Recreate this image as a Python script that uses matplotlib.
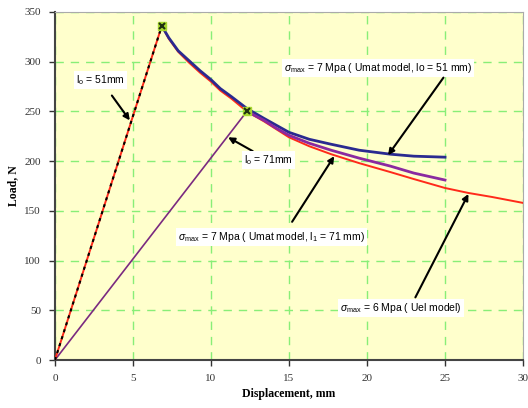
import matplotlib.pyplot as plt

plt.rcParams['mathtext.fontset'] = 'custom'
plt.rcParams['mathtext.rm'] = 'Liberation Sans'
plt.rcParams['mathtext.it'] = 'Liberation Sans:italic'

# Uel model, sigma_max = 6 MPa (red)
x_uel = [0, 6.85, 7.3, 7.9, 8.6, 9.3, 10, 10.6, 11.3, 12.3, 13.4, 14.2, 15, 16.3, 17.7,
         19.5, 21.5, 23, 25, 26.5, 28, 30]
load_uel = [0, 336, 323, 310, 299, 289, 280, 271, 263, 250, 240, 232, 224, 215, 207,
            198, 189, 182, 173, 168, 164, 158]

# Umat model, lo = 51 mm (black dotted rise, blue softening)
x_rise51 = [0, 6.85]
load_rise51 = [0, 336]
x_umat51 = [6.85, 7.3, 7.9, 8.6, 9.3, 10, 10.6, 11.3, 12.3, 13.4, 14.2, 15, 16.3, 17.7,
            19.5, 21.5, 23, 25]
load_umat51 = [336, 324, 311, 301, 291, 282, 273, 265, 253, 243, 236, 229, 222, 217,
               211, 207, 205, 204]

# Umat model, l1 = 71 mm (purple)
x_rise71 = [0, 12.3]
load_rise71 = [0, 250]
x_umat71 = [12.3, 13.4, 14.2, 15, 16.3, 17.7, 19.5, 21.5, 23, 25]
load_umat71 = [250, 241, 233, 226, 218, 211, 203, 195, 188, 181]

# peak markers
x_peak = [6.85, 12.3]
load_peak = [336, 250]

fig = plt.figure(figsize=(5.28, 4.08), dpi=100)
ax = fig.add_axes([0.104, 0.1176, 0.8866, 0.853])
ax.set_facecolor('#ffffcc')

ax.plot(x_rise71, load_rise71, color='#7a2a80', lw=1.2, zorder=3)
ax.plot(x_uel, load_uel, color='#ff2a1a', lw=1.4, zorder=3)
ax.plot(x_rise51, load_rise51, color='black', lw=1.5, ls=(0, (1.5, 2)), zorder=4)
ax.plot(x_umat51, load_umat51, color='#2a2a90', lw=2.0, zorder=4)
ax.plot(x_umat71, load_umat71, color='#8a2aa0', lw=2.0, zorder=4)
ax.plot(x_peak, load_peak, ls='none', marker='s', ms=6, mfc='#a8d830', mec='#a8d830', zorder=5)
ax.plot(x_peak, load_peak, ls='none', marker='x', ms=5, mew=1.5, color='#203010', zorder=6)

ax.set_xlim(0, 30)
ax.set_ylim(0, 350)
ax.set_xticks(range(0, 31, 5))
ax.set_yticks(range(0, 351, 50))
ax.grid(True, color='#88ee77', ls=(0, (6, 5)), lw=1.0)
ax.set_axisbelow(True)

for lab in ax.get_xticklabels() + ax.get_yticklabels():
    lab.set_family('Liberation Serif')
    lab.set_fontsize(8)
    lab.set_color('#333333')
ax.tick_params(length=4, width=1, color='#333333', pad=6)
ax.spines['left'].set_color('#444444')
ax.spines['bottom'].set_color('#444444')
ax.spines['left'].set_linewidth(1.5)
ax.spines['bottom'].set_linewidth(1.5)
ax.spines['top'].set_color('#aaaaaa')
ax.spines['right'].set_color('#aaaaaa')

ax.set_xlabel('Displacement, mm', family='Liberation Serif', fontweight='bold', fontsize=8.5, labelpad=4)
ax.set_ylabel('Load, N', family='Liberation Serif', fontweight='bold', fontsize=8.5, labelpad=4)

box = dict(boxstyle='square,pad=0.2', fc='white', ec='none')
arrow = dict(arrowstyle='-|>', color='black', lw=1.5, mutation_scale=9, shrinkA=0, shrinkB=0)
tkw = dict(family='Liberation Sans', fontsize=7.5, ha='center', va='center', bbox=box, zorder=7)

ax.text(2.9, 282, r'l$_\mathrm{o}$ = 51mm', **tkw)
ax.annotate('', xy=(4.8, 241), xytext=(3.65, 266), arrowprops=arrow, zorder=8)

ax.annotate(r'l$_\mathrm{o}$ = 71mm', xy=(11.1, 224), xytext=(13.7, 201), arrowprops=arrow, **tkw)

ax.text(20.7, 294, r'$\sigma_{\mathrm{max}}$ = 7 Mpa ( Umat model, lo = 51 mm)', **tkw)
ax.annotate('', xy=(21.35, 206), xytext=(24.9, 284), arrowprops=arrow, zorder=8)

ax.text(13.9, 124, r'$\sigma_{\mathrm{max}}$ = 7 Mpa ( Umat model, l$_1$ = 71 mm)', **tkw)
ax.annotate('', xy=(17.9, 205), xytext=(15.2, 139), arrowprops=arrow, zorder=8)

ax.text(22.2, 52, r'$\sigma_{\mathrm{max}}$ = 6 Mpa ( Uel model)', **tkw)
ax.annotate('', xy=(26.5, 167), xytext=(23.1, 63), arrowprops=arrow, zorder=8)

fig.savefig('out.png', dpi=100)
